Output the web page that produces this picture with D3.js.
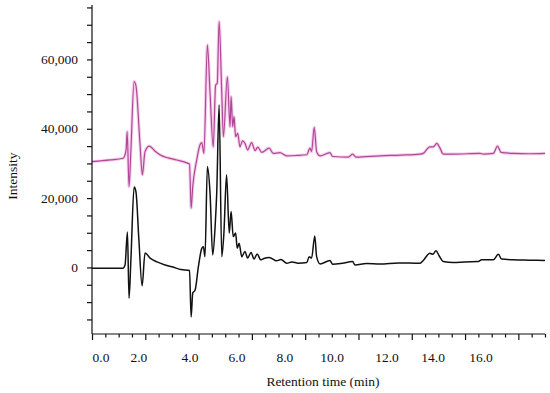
<!DOCTYPE html>
<html>
<head>
<meta charset="utf-8">
<script src="https://cdn.jsdelivr.net/npm/d3@7"></script>
<style>
  body { margin: 0; background: #fff; }
  svg { display: block; font-family: "Liberation Serif", "DejaVu Serif", serif; }
</style>
</head>
<body>
<script>
// chromatogram, two traces (black = lower, pink = offset upper)

// retention time (min) / intensity (x1000)
var blackTime = [0, 0.68, 1.16, 1.24, 1.33, 1.39, 1.46, 1.58, 1.65, 1.76, 1.88, 1.99, 2.18, 2.44, 2.74, 3.04, 3.34, 3.66,
  3.72, 3.78, 3.87, 3.99, 4.12, 4.18, 4.24, 4.33, 4.43, 4.53, 4.62, 4.68, 4.77, 4.87, 4.95, 5.05, 5.15, 5.22, 5.30, 5.39,
  5.45, 5.52, 5.62, 5.74, 5.84, 5.97, 6.08, 6.20, 6.33, 6.45, 6.65, 6.93, 7.09, 7.31, 7.50, 7.74, 8.06, 8.15, 8.24, 8.36,
  8.43, 8.56, 8.93, 9.03, 9.40, 9.78, 9.87, 10.3, 10.81, 11.5, 12.31, 12.43, 12.68, 12.79, 12.91, 13.03, 13.18, 13.56,
  14.0, 14.50, 14.62, 15.06, 15.25, 15.37, 15.81, 16.4, 17.0];
var blackValue = [-0.2, -0.2, -0.2, 0.7, 10.2, -8.9, 2.2, 23.2, 21.8, 7.9, -5.3, 4.2, 2.7, 1.6, 0.7, 0.1, -0.6, -0.9,
  -14.3, -7.4, -6.5, 0.1, 5.5, 6.0, 3.1, 29.1, 21.4, 3.6, 11.8, 21.4, 46.9, 3.1, 9.9, 26.7, 9.9, 16.1, 8.9, 9.9,
  5.5, 7.0, 3.1, 4.6, 2.7, 4.3, 2.4, 3.9, 2.2, 2.6, 2.9, 1.9, 2.3, 1.2, 1.6, 1.2, 1.4, 3.1, 2.7, 9.1,
  3.1, 1.0, 2.0, 0.9, 1.2, 1.7, 0.7, 1.1, 1.0, 1.3, 1.2, 2.0, 4.1, 3.8, 4.8, 3.3, 1.7, 1.4,
  1.6, 1.7, 2.2, 2.2, 3.8, 2.4, 2.2, 2.1, 2.0];

var pinkTime = [0, 0.68, 1.17, 1.28, 1.32, 1.39, 1.46, 1.58, 1.65, 1.80, 1.89, 1.99, 2.15, 2.36, 2.55, 2.85, 3.18, 3.58,
  3.66, 3.72, 3.78, 3.93, 4.05, 4.12, 4.20, 4.33, 4.43, 4.55, 4.64, 4.70, 4.77, 4.87, 4.93, 5.08, 5.18, 5.22, 5.28, 5.33,
  5.39, 5.47, 5.55, 5.65, 5.74, 5.84, 5.99, 6.12, 6.22, 6.37, 6.65, 6.80, 7.05, 7.31, 7.68, 8.06, 8.18, 8.24, 8.34, 8.43,
  8.56, 8.93, 9.03, 9.62, 9.78, 9.91, 10.81, 11.6, 12.31, 12.43, 12.68, 12.81, 12.94, 13.06, 13.18, 13.56, 14.56, 14.68,
  15.06, 15.22, 15.35, 15.81, 16.4, 17.0];
var pinkValue = [30.5, 31.0, 31.5, 33.9, 39.2, 23.3, 33.9, 53.6, 52.4, 35.8, 26.7, 33.4, 35.0, 33.6, 32.5, 31.6, 31.0, 30.1,
  29.8, 17.1, 23.3, 31.0, 35.3, 36.0, 32.9, 64.2, 50.3, 34.8, 52.6, 53.1, 70.9, 50.3, 37.7, 55.0, 40.6, 49.3, 40.6, 43.5,
  37.7, 38.7, 34.8, 36.5, 35.8, 33.9, 36.0, 33.7, 34.7, 33.2, 34.4, 32.9, 33.1, 32.2, 32.3, 32.5, 34.4, 33.4, 40.4, 33.4,
  32.2, 33.1, 32.0, 31.8, 32.7, 31.8, 32.2, 32.4, 32.7, 32.9, 34.8, 34.8, 35.8, 34.4, 32.7, 32.7, 32.9, 32.7,
  32.9, 35.0, 33.2, 32.9, 32.8, 32.9];

// tick labels as printed (they sit a bit off the major ticks in the original)
var xTickLabels = ["0.0", "2.0", "4.0", "6.0", "8.0", "10.0", "12.0", "14.0", "16.0"];
var xTickLabelAt = [0.34, 1.76, 3.68, 5.44, 7.24, 9.01, 11.07, 12.80, 14.60];
var yTickLabels = [0, 20000, 40000, 60000];

var width = 550, height = 393;
var svg = d3.select("body").append("svg")
    .attr("width", width)
    .attr("height", height);

var x = d3.scaleLinear().domain([0, 17]).range([92, 545]);
var y = d3.scaleLinear().domain([-19200, 75700]).range([334, 5]);

var line = d3.line()
    .curve(d3.curveMonotoneX)
    .x(function(d) { return x(d[0]); })
    .y(function(d) { return y(d[1] * 1000); });

// pink trace with a soft halo like the scanned original
svg.append("path")
    .datum(d3.zip(pinkTime, pinkValue))
    .attr("d", line)
    .attr("fill", "none")
    .attr("stroke", "#f5cde8")
    .attr("stroke-width", 3.2)
    .attr("stroke-linejoin", "round");
svg.append("path")
    .datum(d3.zip(pinkTime, pinkValue))
    .attr("d", line)
    .attr("fill", "none")
    .attr("stroke", "#b0489a")
    .attr("stroke-width", 1.2)
    .attr("stroke-linejoin", "round");

svg.append("path")
    .datum(d3.zip(blackTime, blackValue))
    .attr("d", line)
    .attr("fill", "none")
    .attr("stroke", "#111")
    .attr("stroke-width", 1.5)
    .attr("stroke-linejoin", "round");

// y axis: ticks every 5000, labels only at 20000 steps
var yAxis = d3.axisLeft(y)
    .tickValues(d3.range(-15000, 75001, 5000))
    .tickSize(5)
    .tickFormat("");
var gy = svg.append("g").attr("transform", "translate(92,0)").call(yAxis);
gy.select(".domain").attr("d", "M0," + y.range()[1] + "V" + y.range()[0]);

svg.selectAll(".ylab")
    .data(yTickLabels)
    .enter()
    .append("text")
    .attr("class", "ylab")
    .attr("x", 78)
    .attr("y", function(d) { return y(d) + 4.5; })
    .attr("text-anchor", "end")
    .attr("font-size", 13.5)
    .attr("fill", "#111")
    .text(function(d) { return d3.format(",")(d); });

// x axis: minor every 0.5, major every 2
var gx = svg.append("g").attr("transform", "translate(0,334)")
    .call(d3.axisBottom(x).tickValues(d3.range(0, 17.01, 0.5)).tickSize(3).tickFormat(""));
gx.select(".domain").attr("d", "M" + x.range()[0] + ",0H" + x.range()[1]);
gx.selectAll(".tick line")
    .attr("y2", function(d) { return d % 2 === 0 ? 6 : 3.5; });

svg.selectAll("g path, g line")
    .attr("stroke", "#111")
    .attr("stroke-width", 1.2);

svg.selectAll(".xlab")
    .data(xTickLabels)
    .enter()
    .append("text")
    .attr("class", "xlab")
    .attr("x", function(d, i) { return x(xTickLabelAt[i]); })
    .attr("y", 362)
    .attr("text-anchor", "middle")
    .attr("font-size", 13.5)
    .attr("fill", "#111")
    .text(function(d) { return d; });

svg.append("text")
    .attr("x", 323)
    .attr("y", 386)
    .attr("text-anchor", "middle")
    .attr("font-size", 13.5)
    .attr("fill", "#111")
    .text("Retention time (min)");

svg.append("text")
    .attr("transform", "translate(17,176) rotate(-90)")
    .attr("text-anchor", "middle")
    .attr("font-size", 13.5)
    .attr("fill", "#111")
    .text("Intensity");
</script>
</body>
</html>
